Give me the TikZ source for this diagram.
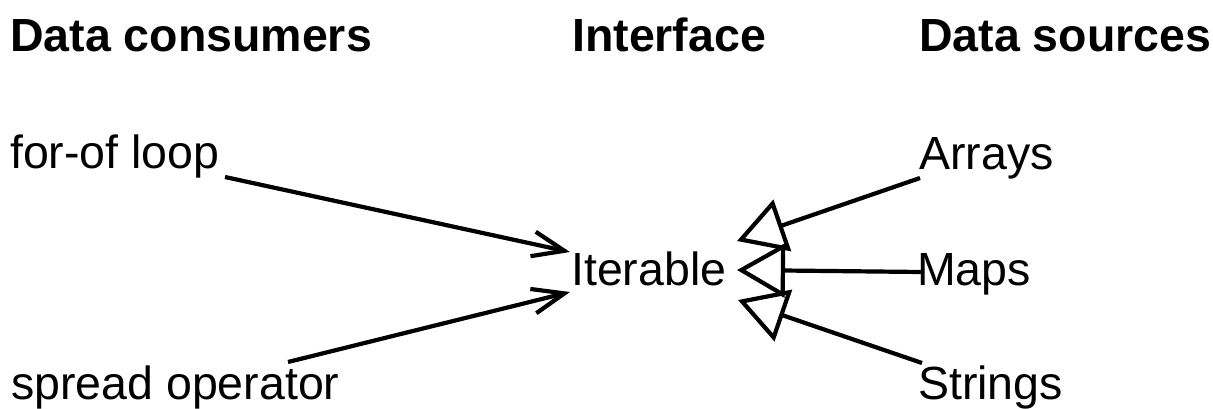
\documentclass[tikz,border=0pt]{standalone}
\usepackage{fontspec}
\setmainfont{Liberation Sans}
\usetikzlibrary{arrows.meta}

\tikzset{
  plaintext/.style={anchor=base west, inner sep=0pt, font=\fontsize{46.5}{55}\selectfont},
  headtext/.style={plaintext, font=\fontsize{46.5}{55}\selectfont\bfseries},
  uses/.style={line width=4.2pt, -{Straight Barb[length=32pt, width=25pt]}},
  implements/.style={line width=4.2pt, -{Triangle[open, length=48pt, width=54pt]}},
}

\begin{document}
\begin{tikzpicture}[x=1pt, y=-1pt]
  \useasboundingbox (0,0) rectangle (1213,408);

  % Column headings
  \node[headtext] (hcons)  at (10,51)  {Data consumers};
  \node[headtext] (hiface) at (572,51) {Interface};
  \node[headtext] (hsrc)   at (919,51) {Data sources};

  % Left column: consumers
  \node[plaintext] (forof)  at (10,168) {for-of loop};
  \node[plaintext] (spread) at (11,399) {spread operator};

  % Middle: the interface
  \node[plaintext] (iter) at (571,285) {Iterable};

  % Right column: sources
  \node[plaintext] (arrays)  at (919,169) {Arrays};
  \node[plaintext] (maps)    at (917,285) {Maps};
  \node[plaintext] (strings) at (918,399) {Strings};

  % consumers -> Iterable
  \draw[uses] ([shift={(215,9)}]forof.base west) -- ([shift={(-1,-33)}]iter.base west);
  \draw[uses] ([shift={(277,-37)}]spread.base west) -- ([shift={(-1,7)}]iter.base west);

  % sources implement Iterable
  \draw[implements] ([shift={(1,9)}]arrays.base west) -- ([shift={(166,-44)}]iter.base west);
  \draw[implements] ([shift={(5,-13)}]maps.base west) -- ([shift={(166,-15)}]iter.base west);
  \draw[implements] ([shift={(4,-36)}]strings.base west) -- ([shift={(167,15)}]iter.base west);
\end{tikzpicture}
\end{document}
